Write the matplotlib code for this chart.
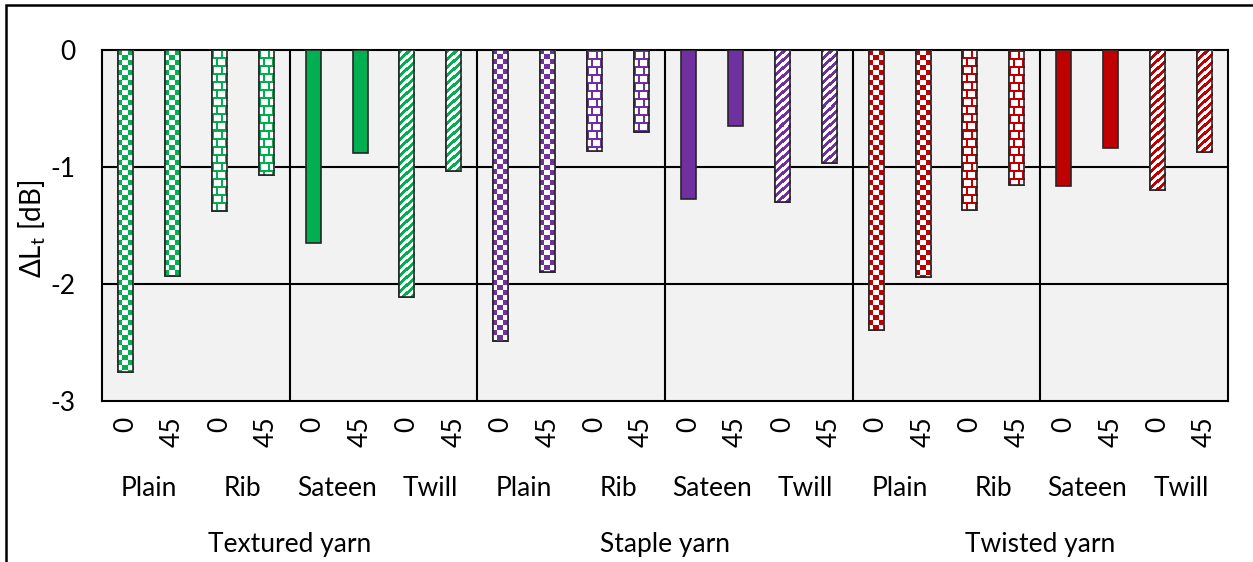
import numpy as np
import matplotlib
matplotlib.use("Agg")
import matplotlib.pyplot as plt
from matplotlib.patches import Rectangle
from matplotlib.transforms import blended_transform_factory

# ---- data -------------------------------------------------------------
yarns = ["Textured yarn", "Staple yarn", "Twisted yarn"]
weaves = ["Plain", "Rib", "Sateen", "Twill"]
angles = ["0", "45"]

textured = [-2.75, -1.93, -1.38, -1.07, -1.65, -0.88, -2.11, -1.03]
staple = [-2.49, -1.90, -0.86, -0.70, -1.27, -0.65, -1.30, -0.97]
twisted = [-2.39, -1.94, -1.37, -1.15, -1.16, -0.84, -1.20, -0.87]

yarn_colors = ["#00B050", "#7030A0", "#C00000"]
weave_patterns = ["checker", "brick", "solid", "diagonal"]

# ---- figure -----------------------------------------------------------
W, H, DPI = 1253, 562, 100
FS = 19
plt.rcParams["font.family"] = ["Lato", "DejaVu Sans"]
fig = plt.figure(figsize=(W / DPI, H / DPI), dpi=DPI)
fig.patch.set_facecolor("white")

left, right, top, bottom = 102, 1228, 50, 401
ax = fig.add_axes([left / W, 1 - bottom / H, (right - left) / W, (bottom - top) / H])
ax.set_facecolor("#F2F2F2")

values = textured + staple + twisted
n = len(values)
ax.set_xlim(0, n)
ax.set_ylim(-3, 0)

px_per_x = (right - left) / n
px_per_y = (bottom - top) / 3.0
bar_w = 0.32


def pattern_image(kind, color, w_px, h_px):
    rgb = np.array(matplotlib.colors.to_rgb(color))
    img = np.ones((h_px, w_px, 3))
    i, j = np.mgrid[0:h_px, 0:w_px]
    if kind == "checker":
        mask = ((i // 5) + ((j + 1) // 5)) % 2 == 0
    elif kind == "brick":
        row = i // 8
        mask = (i % 8 < 2) | (((j + 4 * (row % 2)) % 8) < 2)
    elif kind == "diagonal":
        mask = ((i + j) % 8) < 4
    else:
        mask = np.ones_like(i, dtype=bool)
    img[mask] = rgb
    return img


# horizontal gridlines and group separators
for yv in [-1, -2]:
    ax.axhline(yv, color="black", lw=1.5, zorder=1)
for k in range(4, n, 4):
    ax.axvline(k, color="black", lw=1.5, zorder=1)

for idx, v in enumerate(values):
    yarn_i = idx // 8
    weave_i = (idx % 8) // 2
    color = yarn_colors[yarn_i]
    kind = weave_patterns[weave_i]
    x0 = idx + 0.5 - bar_w / 2
    if kind == "solid":
        ax.bar(idx + 0.5, v, width=bar_w, color=color, edgecolor="#262626",
               linewidth=1.2, zorder=3)
    else:
        bars = ax.bar(idx + 0.5, v, width=bar_w, color="white",
                      edgecolor="#262626", linewidth=1.2, zorder=3)
        w_px = max(1, int(round(bar_w * px_per_x)))
        h_px = max(1, int(round(abs(v) * px_per_y)))
        img = pattern_image(kind, color, w_px, h_px)
        im = ax.imshow(img, extent=(x0, x0 + bar_w, v, 0), origin="upper",
                       interpolation="nearest", aspect="auto", zorder=3.5)
        im.set_clip_path(bars[0])
        ax.bar(idx + 0.5, v, width=bar_w, color="none", edgecolor="#262626",
               linewidth=1.2, zorder=4)

ax.set_xlim(0, n)
ax.set_ylim(-3, 0)

# axes styling
for s in ax.spines.values():
    s.set_color("black")
    s.set_linewidth(1.5)
ax.set_yticks([0, -1, -2, -3])
ax.set_yticklabels(["0", "-1", "-2", "-3"], fontsize=FS)
ax.tick_params(axis="y", length=0, pad=19)
ax.set_xticks(np.arange(n) + 0.5)
ax.set_xticklabels(angles * (n // 2), rotation=90, fontsize=FS)
ax.tick_params(axis="x", length=0, pad=11)

ax.set_ylabel(r"ΔL$_\mathregular{t}$ [dB]", fontsize=20, labelpad=2)
ax.yaxis.set_label_coords(-0.048, 0.49)

trans = blended_transform_factory(ax.transData, ax.transAxes)
for yi, yarn in enumerate(yarns):
    for wi, weave in enumerate(weaves):
        xc = yi * 8 + wi * 2 + 1
        ax.text(xc, -0.248, weave, transform=trans, ha="center", va="center",
                fontsize=FS)
    ax.text(yi * 8 + 4, -0.41, yarn, transform=trans, ha="center",
            va="center", fontsize=FS)

# outer chart border
fig.patches.append(Rectangle((6 / W, -0.1), 1.2, 1 - 5 / H + 0.1,
                             transform=fig.transFigure, fill=False,
                             edgecolor="black", linewidth=1.8))

fig.savefig("out.png", dpi=DPI)
